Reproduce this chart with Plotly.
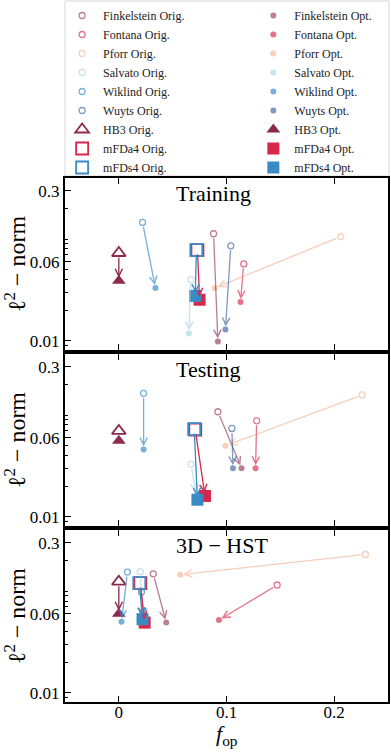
import numpy as np
import plotly.graph_objects as go
from plotly.subplots import make_subplots

# photo-z codes / templates, same order in every list below
codes = ['Finkelstein', 'Fontana', 'Pforr', 'Salvato', 'Wiklind', 'Wuyts', 'HB3', 'mFDa4', 'mFDs4']
panel_titles = ['Training', 'Testing', '3D \u2212 HST']

# Training set
train_fop_orig = [0.088, 0.116, 0.206, 0.067, 0.022, 0.104, 0.0, 0.073, 0.072]
train_l2_orig = [0.113, 0.057, 0.106, 0.040, 0.146, 0.086, 0.073, 0.078, 0.078]
train_fop_opt = [0.092, 0.113, 0.089, 0.065, 0.034, 0.099, 0.0, 0.075, 0.071]
train_l2_opt = [0.0098, 0.024, 0.033, 0.0118, 0.033, 0.0129, 0.039, 0.0253, 0.0276]

# Testing set
test_fop_orig = [0.092, 0.128, 0.226, 0.067, 0.023, 0.105, 0.0, 0.071, 0.070]
test_l2_orig = [0.108, 0.088, 0.158, 0.033, 0.164, 0.074, 0.070, 0.072, 0.073]
test_fop_opt = [0.114, 0.127, 0.099, 0.072, 0.023, 0.106, 0.0, 0.080, 0.073]
test_l2_opt = [0.030, 0.030, 0.050, 0.0162, 0.046, 0.030, 0.056, 0.016, 0.0147]

# 3D-HST
hst_fop_orig = [0.032, 0.147, 0.229, 0.020, 0.008, 0.021, 0.0, 0.020, 0.019]
hst_l2_orig = [0.148, 0.115, 0.230, 0.156, 0.154, 0.098, 0.124, 0.120, 0.120]
hst_fop_opt = [0.044, 0.093, 0.057, 0.022, 0.0025, 0.023, 0.0, 0.024, 0.022]
hst_l2_opt = [0.049, 0.052, 0.145, 0.052, 0.050, 0.052, 0.060, 0.049, 0.053]

panels = [
    (train_fop_orig, train_l2_orig, train_fop_opt, train_l2_opt),
    (test_fop_orig, test_l2_orig, test_fop_opt, test_l2_opt),
    (hst_fop_orig, hst_l2_orig, hst_fop_opt, hst_l2_opt),
]

colors = {
    'Finkelstein': 'rgba(140,42,78,0.6)',
    'Fontana': 'rgba(215,40,74,0.65)',
    'Pforr': 'rgba(244,165,130,0.55)',
    'Salvato': 'rgba(146,197,222,0.5)',
    'Wiklind': 'rgba(61,143,204,0.7)',
    'Wuyts': 'rgba(43,85,146,0.6)',
    'HB3': 'rgb(140,42,78)',
    'mFDa4': 'rgb(215,40,74)',
    'mFDs4': 'rgb(58,138,198)',
}
sym_orig = {'HB3': 'triangle-up-open', 'mFDa4': 'square-open', 'mFDs4': 'square-open'}
sym_opt = {'HB3': 'triangle-up', 'mFDa4': 'square', 'mFDs4': 'square'}

FONT = 'Liberation Serif, DejaVu Serif, serif'

fig = make_subplots(rows=3, cols=1)

for p, (fo, lo, fp, lp) in enumerate(panels):
    row = p + 1
    xr = 'x' if p == 0 else 'x%d' % row
    yr = 'y' if p == 0 else 'y%d' % row
    for i, c in enumerate(codes):
        big = c in sym_orig
        size = 12 if big else 6
        col = colors[c]
        # arrow from original to optimised
        fig.add_annotation(x=fp[i], y=np.log10(lp[i]), ax=fo[i], ay=np.log10(lo[i]),
                           xref=xr, yref=yr, axref=xr, ayref=yr, text='',
                           showarrow=True, arrowhead=5, arrowsize=1.1, arrowwidth=1.3,
                           arrowcolor=col, standoff=3, startstandoff=3)
        fig.add_trace(go.Scatter(x=[fo[i]], y=[lo[i]], mode='markers', name=c + ' Orig.',
                                 legend='legend', legendgroup=c + 'o', showlegend=(p == 0),
                                 marker=dict(symbol=sym_orig.get(c, 'circle-open'), size=size,
                                             color=col, line=dict(width=1.8 if big else 1.3, color=col))),
                      row=row, col=1)
        fig.add_trace(go.Scatter(x=[fp[i]], y=[lp[i]], mode='markers', name=c + ' Opt.',
                                 legend='legend2', legendgroup=c + 'p', showlegend=(p == 0),
                                 marker=dict(symbol=sym_opt.get(c, 'circle'), size=size,
                                             color=col, line=dict(width=0))),
                      row=row, col=1)
    fig.add_annotation(text=panel_titles[p], xref=xr + ' domain', yref=yr + ' domain',
                       x=0.337, y=1.0, xanchor='left', yanchor='top', yshift=-1,
                       showarrow=False, font=dict(family=FONT, size=22, color='black'))

# panel domains (paper fractions), plot area 178..702 px
domains = [[0.6718, 1.0], [0.3359, 0.6641], [0.0, 0.3282]]
minor_vals = [0.009, 0.02, 0.03, 0.04, 0.05, 0.07, 0.08, 0.09, 0.1, 0.2, 0.4]
for p in range(3):
    row = p + 1
    fig.update_yaxes(type='log', range=[np.log10(0.0081), np.log10(0.40)], domain=domains[p],
                     tickvals=[0.01, 0.06, 0.3], ticktext=['0.01', '0.06', '0.3'],
                     ticks='inside', ticklen=6, tickwidth=1.2, tickcolor='black',
                     minor=dict(tickvals=minor_vals, ticks='inside', ticklen=3, tickwidth=1, tickcolor='black'),
                     showline=True, linewidth=2, linecolor='black', mirror=True,
                     showgrid=False, zeroline=False, automargin=False,
                     tickfont=dict(family=FONT, size=17, color='black'),
                     title=dict(text='\u2113<sup>2</sup> \u2212 norm', standoff=3,
                                font=dict(family=FONT, size=24, color='black')),
                     row=row, col=1)
    fig.update_xaxes(range=[-0.05, 0.25], tickvals=[0, 0.1, 0.2], ticktext=['0', '0.1', '0.2'],
                     ticks='inside', ticklen=6, tickwidth=1.2, tickcolor='black',
                     showline=True, linewidth=2, linecolor='black', mirror='ticks',
                     showgrid=False, zeroline=False, showticklabels=(row == 3),
                     automargin=False, ticklabelstandoff=-6,
                     tickfont=dict(family=FONT, size=17, color='black'),
                     row=row, col=1)

# x axis label, sits just under the tick labels
fig.add_annotation(text='<i>f</i><sub>op</sub>', xref='x3 domain', yref='y3 domain',
                   x=0.5, y=0, yshift=-33, xanchor='center', yanchor='middle',
                   showarrow=False, font=dict(family=FONT, size=22, color='black'))

# frame around the two legend columns
fig.add_shape(type='rect', xref='paper', yref='paper', x0=0.0, x1=1.003, y0=1.0038, y1=1.3378,
              line=dict(color='#d6d6d6', width=1), fillcolor='white', layer='below')

leg_font = dict(family=FONT, size=12, color='#222')
fig.update_layout(
    width=391, height=752,
    margin=dict(l=65, r=3, t=178, b=50, autoexpand=False),
    plot_bgcolor='white', paper_bgcolor='white',
    font=dict(family=FONT, color='black'),
    legend=dict(orientation='v', x=-0.012, y=1.3378, xanchor='left', yanchor='top',
                tracegroupgap=0, itemwidth=32, font=leg_font, borderwidth=0,
                bgcolor='rgba(0,0,0,0)', itemsizing='trace'),
    legend2=dict(orientation='v', x=0.58, y=1.3378, xanchor='left', yanchor='top',
                 tracegroupgap=0, itemwidth=32, font=leg_font, borderwidth=0,
                 bgcolor='rgba(0,0,0,0)', itemsizing='trace'),
)

# page body has a default 8px margin; drop it so the figure sits at the corner
fig.write_html("out.html", config={'displayModeBar': False},
               post_script="document.body.style.margin='0';")
